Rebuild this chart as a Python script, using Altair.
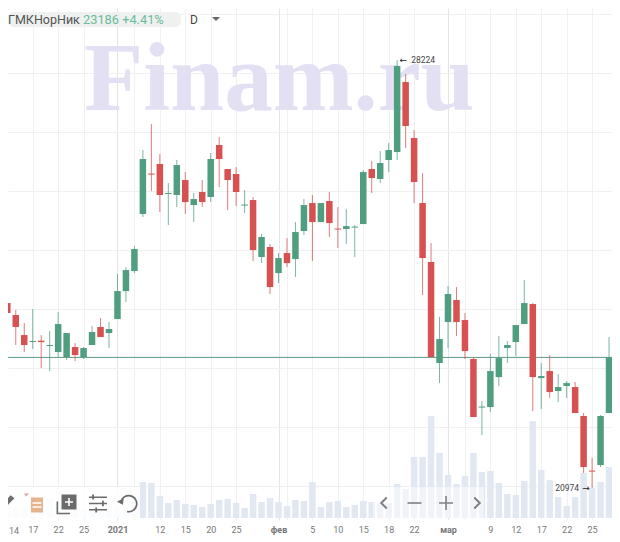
import altair as alt
import pandas as pd

# --- chart values -----------------------------------------------------------
idx = list(range(1, 73))
top = [24107,23904,23565,23464,23470,23396,23751,23599,23362,23345,23616,23701,23667,24310,24666,25022,
       26547,26300,26462,25971,26445,26191,25869,25988,26547,26784,26377,26292,25776,25852,25225,25056,
       24869,24954,25310,25767,25801,25801,25835,25369,25411,25403,26326,26377,26479,26699,28122,27851,
       26902,25801,24802,23497,24260,24158,23819,23159,22354,22955,23175,23396,23734,24107,24090,22870,
       22955,22684,22752,22684,22193,21269,22193,23186]
bottom = [23938,23701,23396,23447,23445,23379,23277,23192,23226,23192,23396,23531,23599,23836,24310,24649,
          25615,26283,25937,25954,25937,25818,25767,25818,25903,26547,26191,25988,25759,25005,24886,24378,
          24615,24784,24852,25327,25479,25479,25462,25352,25361,25386,25445,26225,26208,26530,26665,27106,
          26157,24869,23192,23091,23785,23785,23294,22176,22337,22345,22853,23345,23447,23751,22853,22836,
          22599,22616,22701,22244,21329,21252,21363,22244]
high = [24463,23989,23768,24006,23565,23633,23955,23599,23430,23362,23718,23853,23785,24598,24717,25073,
        26699,27139,26631,26140,26530,26326,25971,26191,26648,26919,26377,26411,26021,25903,25276,25107,
        24954,25208,25479,25869,25937,25801,25988,25733,25699,25428,26360,26513,26682,26817,28224,27986,
        27038,26309,25124,23870,24395,24378,23938,23192,22447,23243,23548,23464,23734,24497,24107,23091,
        23226,22905,22786,22769,22244,21481,22210,23531]
low = [23819,23396,23277,23328,23006,22955,23192,23142,23125,23159,23396,23531,23345,23836,24124,24615,
       25564,26004,25649,25428,25733,25615,25479,25733,25818,26072,25683,25750,25632,24819,24784,24260,
       24446,24717,24547,25259,24819,25479,25225,25039,25107,24886,25445,25971,26140,26326,26530,26733,
       25801,24243,23192,22752,23345,23548,23159,22176,21871,22261,22701,23091,23209,23751,22278,22311,
       22498,22430,22498,22244,21227,20974,21329,22244]
direction = ["down","down","down","up","down","up","up","up","down","up","up","down","up","up","up","up",
             "up","down","down","up","up","down","up","down","up","down","down","down","up","down","up","down",
             "up","down","up","up","down","up","down","down","up","up","up","down","up","up","up","down",
             "down","down","down","up","up","down","down","down","up","up","up","up","up","up","down","up",
             "down","up","up","down","down","down","up","up"]
volume = [14,10,11,16,13,20,14,10,9,8,8,8,7,10,14,22,
          36,35,22,15,18,14,13,11,14,18,19,15,10,24,16,20,
          16,12,18,17,36,11,16,17,11,13,17,16,15,15,34,29,
          61,61,102,65,43,34,42,65,46,47,35,24,23,37,97,48,
          38,21,12,21,45,30,36,51]

tick_idx = [4,7,10,14,16,19,22,25,28,33,34,37,40,43,46,49,53,55,58,61,64,67,70]
tick_labels = ["17","22","25","2021","","12","15","20","25","фев","","5","10","15","18","22","мар","","9","12","17","22","25"]
first_tick_label = "14"
bold_ticks = [14,33,53]
price_grid = [21000,22000,23000,24000,25000,26000,27000,28000,29000]
last_price = 23186
ext_idx = [47,70]
ext_price = [28224,20974]
ext_labels = ["28224","20974"]

# --- layout -----------------------------------------------------------------
W, H = 604, 512
GREEN, RED = "#4f9e80", "#d6514f"
xs = alt.Scale(domain=[1.083, 72.35], nice=False, zero=False, padding=0)
ys = alt.Scale(domain=[20432, 29105], nice=False, zero=False)
vs = alt.Scale(domain=[0, 103], range=[510, 407], nice=False, zero=False)
col = alt.Color("dir:N", scale=alt.Scale(domain=["up","down"], range=[GREEN, RED]), legend=None)

df = pd.DataFrame({"i":idx,"top":top,"bot":bottom,"hi":high,"lo":low,"dir":direction,"vol":volume})
one = pd.DataFrame({"k":[0]})

lab_map = ",".join(f"'{i}':'{t}'" for i, t in zip(tick_idx, tick_labels))
x_axis = alt.Axis(values=tick_idx, labelExpr="({%s})[''+datum.value]" % lab_map, title=None, domain=False, ticks=False,
                  labelPadding=5, labelFont="Roboto", labelFontSize=9, labelColor="#777777", labelAngle=0,
                  labelOverlap=False, labelFlush=False, labelBound=False,
                  labelFontWeight={"condition":{"test":"indexof(%s,datum.value)>=0" % bold_ticks,"value":"bold"},"value":"normal"},
                  grid=True,
                  gridColor={"condition":{"test":"indexof(%s,datum.value)>=0" % bold_ticks,"value":"#e2e4e6"},"value":"#f0f0f0"},
                  gridWidth=1)
y_axis = alt.Axis(values=price_grid, labels=False, ticks=False, domain=False, title=None, grid=True,
                  gridColor="#f0f0f0", gridWidth=1)
X = alt.X("i:Q", scale=xs, axis=x_axis)

frame = alt.Chart(df).mark_rule(opacity=0).encode(
    x=X,
    y=alt.Y("lo:Q", scale=ys, axis=y_axis),
)

def px(v):
    return alt.value(v - 8)

watermark = alt.Chart(one).mark_text(text="Finam.ru", font="Liberation Serif", fontWeight="bold", fontSize=97,
                                     align="left", baseline="alphabetic", color="#e4e0f4").encode(x=px(84), y=px(110))

vol = alt.Chart(df).mark_bar(size=6.5, color="#e1e8f1", clip=True).encode(
    x=X,
    y=alt.Y("vol:Q", scale=vs, axis=None),
    y2=alt.value(510),
)
veil_l = alt.Chart(one).mark_rect(color="white", opacity=0.85).encode(x=px(8), x2=px(140), y=px(487), y2=px(518))
veil_m = alt.Chart(one).mark_rect(color="white", opacity=0.5).encode(x=px(373), x2=px(484), y=px(487), y2=px(518))

last_line = alt.Chart(pd.DataFrame({"p":[last_price]})).mark_rule(color="#5d9a85", strokeWidth=1).encode(
    y=alt.Y("p:Q", scale=ys, axis=None))

wick = alt.Chart(df).mark_rule(strokeWidth=1, opacity=0.75, clip=True).encode(
    x=X,
    y=alt.Y("lo:Q", scale=ys, axis=None),
    y2="hi:Q",
    color=col,
)
body = alt.Chart(df).mark_bar(size=6.5, clip=True).encode(
    x=X,
    y=alt.Y("top:Q", scale=ys, axis=None),
    y2="bot:Q",
    color=col,
)

ext = pd.DataFrame({"i":ext_idx,"price":ext_price,"label":ext_labels})
def ext_text(row, arrow, adx, dx, align):
    enc = dict(x=X, y=alt.Y("price:Q", scale=ys, axis=None))
    d = ext.iloc[[row]]
    return (alt.Chart(d).mark_text(text=arrow, dx=adx, fontSize=9, font="DejaVu Sans", color="#222222").encode(**enc),
            alt.Chart(d).mark_text(dx=dx, align=align, fontSize=8.5, font="Roboto", color="#444444").encode(text="label:N", **enc))

# --- chart furniture --------------------------------------------------------
pill = alt.Chart(one).mark_rect(color="#eef1f0", cornerRadius=6).encode(x=px(8), x2=px(181), y=px(12), y2=px(27))
def label(t, x, y, size, color, **kw):
    return alt.Chart(one).mark_text(text=t, align=kw.pop("align", "left"), baseline="middle", fontSize=size,
                                    font="Roboto", color=color, **kw).encode(x=px(x), y=px(y))
def icon(path, x, y, width, fill=None, stroke=None, sw=1.5):
    kw = dict(shape=path, size=width * width, opacity=1)
    kw.update(filled=fill is not None)
    if fill: kw["fill"] = fill
    if stroke:
        kw["stroke"] = stroke
        kw["strokeWidth"] = sw
    else:
        kw["strokeWidth"] = 0
    return alt.Chart(one).mark_point(**kw).encode(x=px(x), y=px(y))

BOX = "M-1,-1H1V1H-1Z"
GREY = "#6b6b6b"
furniture = [
    pill,
    label("ГМКНорНик", 8, 19.5, 12.5, "#555555"),
    label("23186 +4.41%", 83, 19.5, 12.8, "#6cbb98"),
    label("D", 190, 19.5, 12, "#444444"),
    label(first_tick_label, 9, 530.5, 9, "#777777"),
    icon("M-1,-0.5H1L0,0.5Z", 216, 19, 8, fill="#666666"),
    # pencil
    icon("M-0.9,0.9L-0.6,0.2L0.5,-0.9L1,-0.5L-0.1,0.6Z", 7, 502, 15, fill="#6f6f6f"),
    # template
    icon("M-0.8,-1H0.8V1H-0.8Z", 37, 505, 15, fill="#e6b48c"),
    icon("M-1,-0.45H1M-1,0.45H1", 37, 505, 9, stroke="#ffffff", sw=1.4),
    icon("M-1,-1L1,-1L-0.2,0.2Z", 26.5, 496, 5, fill="#d9a5a0"),
    # add study
    icon("M-0.9,-0.4V1H0.6", 65, 505, 17, stroke=GREY, sw=1.6),
    icon(BOX, 69, 502, 15, fill=GREY),
    icon("M-1,0H1M0,-1V1", 69, 502, 8, stroke="#ffffff", sw=1.6),
    # settings
    icon("M-1,-0.7H1M-1,0H1M-1,0.7H1", 98, 503.5, 18, stroke=GREY, sw=1.4),
    icon("M-0.55,-1V-0.45M0.55,-0.3V0.3M-0.2,0.45V1", 98, 503.5, 18, stroke=GREY, sw=1.8),
    # reset
    icon("M-0.75,-0.45A0.85,0.85 0 1 1 -0.2,0.85", 129, 503.5, 19, stroke=GREY, sw=1.7),
    icon("M-1,0.1L0.9,-1L0.7,0.9Z", 120.5, 501.5, 7, fill=GREY),
    # navigation
    icon("M0.5,-1L-0.5,0L0.5,1", 384, 503, 11, stroke="#808080", sw=2),
    icon("M-1,0H1", 414.5, 503, 14, stroke="#808080", sw=1.6),
    icon("M-1,0H1M0,-1V1", 446, 503, 14, stroke="#808080", sw=1.6),
    icon("M-0.5,-1L0.5,0L-0.5,1", 477, 503, 11, stroke="#808080", sw=2),
]

layers = [frame, watermark, vol, veil_l, veil_m, last_line, wick, body,
          *ext_text(0, "←", 6, 14, "left"), *ext_text(1, "→", -6, -13, "right")] + furniture

chart = (alt.layer(*layers)
         .resolve_scale(y="independent", color="shared")
         .properties(width=W, height=H, padding={"left":0,"top":0,"right":0,"bottom":20},
                     autosize=alt.AutoSizeParams(type="none"), background="white")
         .configure_view(stroke=None))

chart.save("out.html", embed_options={"renderer": "svg", "actions": False})
